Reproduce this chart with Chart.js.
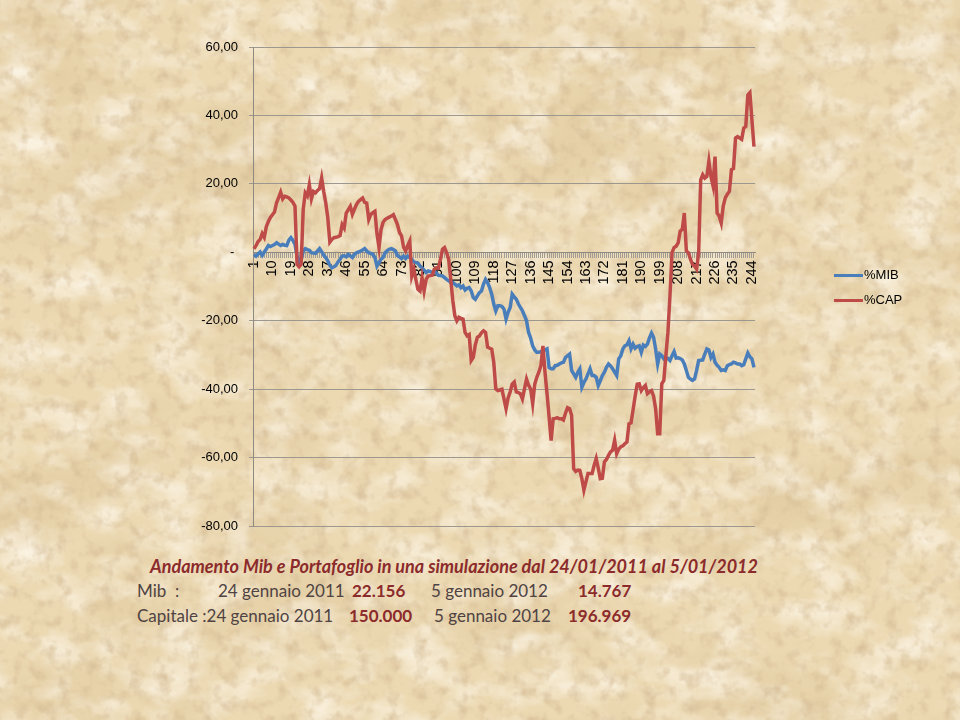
<!DOCTYPE html>
<html>
<head>
<meta charset="utf-8">
<script src="https://cdn.jsdelivr.net/npm/chart.js@4.4.1/dist/chart.umd.min.js"></script>
<style>
html, body { margin: 0; padding: 0; }
body { width: 960px; height: 720px; position: relative; overflow: hidden; background-color: #ecd9b2; }
#wrap { position: absolute; left: 0; top: 0; width: 960px; height: 545px; }
.leg { position: absolute; left: 834px; height: 20px; font: 13px 'Liberation Sans', Arial, sans-serif; color: #000; }
.leg span.l { position: absolute; left: 0; top: 9px; width: 29px; height: 3px; }
.leg span.t { position: absolute; left: 30px; top: 2px; white-space: nowrap; }
.txt { position: absolute; white-space: nowrap; font-family: Lato, 'Open Sans', sans-serif; font-size: 17px; line-height: 22px; color: #4f4343; }
.b { font-weight: bold; color: #8b2b2b; }
#titolo { left: 150px; top: 555px; font-size: 18px; font-weight: bold; font-style: italic; color: #8b2b2b; }
</style>
</head>
<body>
<div id="wrap"><canvas id="grafico" width="960" height="545"></canvas></div>

<div class="leg" style="top:265px"><span class="l" style="background:#4a7ebb"></span><span class="t">%MIB</span></div>
<div class="leg" style="top:290px"><span class="l" style="background:#be4b48"></span><span class="t">%CAP</span></div>

<div class="txt" id="titolo">Andamento Mib e Portafoglio in una simulazione dal 24/01/2011 al 5/01/2012</div>
<div class="txt" style="left:137px;top:580px">Mib &nbsp;:</div>
<div class="txt" style="left:218px;top:580px">24 gennaio 2011</div>
<div class="txt b" style="left:352px;top:580px">22.156</div>
<div class="txt" style="left:431px;top:580px">5 gennaio 2012</div>
<div class="txt b" style="left:578px;top:580px">14.767</div>
<div class="txt" style="left:137px;top:605px">Capitale :24 gennaio 2011</div>
<div class="txt b" style="left:349px;top:605px">150.000</div>
<div class="txt" style="left:434px;top:605px">5 gennaio 2012</div>
<div class="txt b" style="left:568px;top:605px">196.969</div>

<script>
// variazione % del Mib, una seduta per valore
const mib = [
  -0.6, -1.1, -0.5, 0.1, -0.9, 0.1, 1.0, 2.0, 1.7, 2.0,
  2.3, 2.8, 2.4, 2.0, 2.3, 2.1, 2.0, 3.6, 4.3, 3.5,
  2.3, -1.1, -3.0, -2.0, 0.4, 1.1, 0.8, 0.6, -0.1, -0.2,
  -0.3, 0.4, 1.1, 0.2, -0.8, -1.5, -2.5, -3.8, -4.5, -4.2,
  -3.8, -2.8, -2.0, -1.1, -1.0, -1.3, -0.6, -1.0, -1.5, -0.6,
  -0.1, 0.1, 0.4, 0.7, 1.1, 0.4, -0.1, -0.3, -0.6, -1.5,
  -4.0, -3.0, -2.0, -1.5, -0.1, 0.5, 0.9, 1.1, 0.8, 0.4,
  -0.9, -1.3, -1.8, -1.1, -1.8, -1.1, -1.5, -2.0, -2.8, -3.0,
  -3.2, -4.0, -4.5, -5.2, -5.9, -5.4, -5.6, -5.9, -5.4, -6.0,
  -6.7, -6.8, -6.9, -7.4, -7.9, -8.3, -8.8, -8.8, -9.3, -9.8,
  -9.5, -10.3, -9.8, -11.0, -10.5, -10.3, -11.3, -13.2, -13.7, -12.7,
  -11.8, -11.3, -9.3, -7.9, -8.8, -10.3, -12.2, -15.1, -17.1, -15.6,
  -15.6, -15.8, -16.6, -19.5, -17.5, -16.1, -12.2, -13.0, -13.7, -15.0,
  -16.1, -17.1, -18.5, -20.0, -23.4, -25.0, -27.3, -28.5, -29.2, -29.2,
  -29.0, -28.7, -28.5, -28.2, -33.6, -34.0, -34.0, -33.1, -33.0, -32.6,
  -32.3, -32.1, -30.7, -30.2, -29.7, -34.5, -35.5, -36.5, -35.0, -34.0,
  -39.4, -38.0, -37.0, -35.5, -34.0, -36.0, -36.0, -36.5, -38.9, -37.5,
  -36.0, -35.0, -33.6, -32.6, -33.2, -34.0, -35.0, -36.0, -31.1, -30.2,
  -28.2, -27.3, -27.0, -25.8, -28.2, -26.8, -28.0, -27.5, -27.3, -29.2,
  -27.1, -27.5, -26.8, -25.0, -23.6, -24.8, -28.2, -32.6, -29.7, -30.2,
  -31.1, -30.7, -31.0, -31.6, -30.2, -29.0, -30.9, -30.8, -31.0, -31.4,
  -32.6, -34.5, -36.5, -37.0, -37.4, -37.0, -34.5, -31.6, -31.5, -31.4,
  -29.7, -28.2, -28.5, -30.7, -29.7, -32.1, -33.0, -33.6, -34.5, -34.3,
  -34.5, -33.1, -32.8, -32.6, -32.1, -32.3, -32.6, -32.6, -33.1, -32.8,
  -31.1, -29.4, -30.5, -31.1, -33.6
];

// variazione % del capitale
const cap = [
  1.0, 2.0, 3.2, 3.8, 5.5, 4.4, 7.5, 9.0, 10.2, 11.0,
  11.8, 14.5, 16.0, 17.6, 15.6, 16.4, 16.2, 15.9, 15.3, 14.6,
  13.5, -3.5, -4.2, -3.5, 12.5, 17.4, 16.5, 19.8, 15.6, 17.8,
  17.4, 18.1, 18.6, 21.7, 17.8, 14.5, 10.1, 3.0, 3.8, 4.3,
  4.4, 4.6, 4.9, 8.1, 7.1, 11.5, 12.5, 13.5, 11.1, 12.6,
  14.0, 14.9, 15.4, 15.9, 14.6, 14.4, 9.6, 11.1, 11.6, 12.0,
  5.5, 1.4, 6.7, 8.8, 9.6, 10.0, 10.3, 10.6, 11.0, 9.6,
  8.1, 5.8, 4.8, 1.5, 0.4, 2.0, 3.3, -6.9, -4.9, -8.0,
  -10.8, -11.3, -7.4, -11.3, -7.9, -6.9, -6.8, -6.7, -4.9, -4.5,
  -4.6, -2.0, 0.9, 1.4, -0.1, -2.0, -7.9, -14.0, -18.5, -20.0,
  -19.0, -19.3, -19.5, -23.4, -24.4, -24.0, -31.6, -30.7, -27.0, -24.8,
  -24.4, -23.5, -22.9, -23.4, -27.7, -28.0, -28.3, -32.1, -39.9, -40.4,
  -40.2, -40.0, -42.8, -45.7, -42.5, -40.8, -38.5, -37.9, -40.8, -41.0,
  -41.3, -42.8, -39.9, -37.0, -38.8, -39.9, -44.2, -38.5, -36.5, -35.0,
  -33.1, -27.3, -35.0, -41.3, -48.0, -55.0, -48.6, -48.5, -48.3, -48.6,
  -48.6, -49.0, -47.0, -45.4, -45.7, -47.6, -63.2, -64.0, -63.6, -63.7,
  -66.1, -69.5, -67.0, -64.6, -64.6, -64.6, -62.2, -60.2, -63.0, -66.1,
  -66.0, -61.2, -60.5, -59.3, -58.3, -57.8, -54.9, -58.8, -57.5, -56.8,
  -56.5, -55.9, -55.4, -50.1, -49.8, -46.0, -42.0, -38.5, -38.4, -40.4,
  -39.5, -38.9, -41.3, -40.8, -40.4, -42.0, -45.7, -53.0, -53.0, -38.4,
  -37.4, -30.2, -23.4, -12.7, -0.1, 1.4, 1.8, 2.8, 6.2, 6.7,
  11.5, 0.4, -0.1, -2.0, -3.5, -4.0, -4.9, -0.1, 21.2, 22.7,
  21.7, 22.2, 26.6, 22.2, 19.5, 28.0, 11.5, 10.6, 8.6, 13.5,
  15.9, 17.0, 17.8, 24.2, 24.5, 33.4, 33.8, 33.4, 33.0, 36.3,
  36.8, 46.0, 46.7, 38.7, 30.9
];

// numero della seduta sull'asse x, etichetta ogni 9
const giorni = mib.map((v, i) => String(i + 1));
const passoEtichette = 9;
const yMin = -80, yMax = 60, yPasso = 20;

// sfondo tipo pergamena (macchie leggere)
const svg = "<svg xmlns='http://www.w3.org/2000/svg' width='960' height='720'>" +
  "<filter id='a' x='0' y='0' width='100%' height='100%'><feTurbulence type='fractalNoise' baseFrequency='0.006 0.009' numOctaves='5' seed='11'/>" +
  "<feColorMatrix values='0 0 0 0 0.72  0 0 0 0 0.56  0 0 0 0 0.32  1.5 0 0 0 -0.68'/></filter>" +
  "<filter id='b' x='0' y='0' width='100%' height='100%'><feTurbulence type='fractalNoise' baseFrequency='0.02 0.03' numOctaves='4' seed='4'/>" +
  "<feColorMatrix values='0 0 0 0 1  0 0 0 0 0.96  0 0 0 0 0.88  0 1.6 0 0 -0.68'/></filter>" +
  "<filter id='c' x='0' y='0' width='100%' height='100%'><feTurbulence type='fractalNoise' baseFrequency='0.07' numOctaves='3' seed='21'/>" +
  "<feColorMatrix values='0 0 0 0 0.66  0 0 0 0 0.5  0 0 0 0 0.3  0 0 1.8 0 -0.85'/></filter>" +
  "<rect width='960' height='720' filter='url(#a)'/>" +
  "<rect width='960' height='720' filter='url(#b)'/>" +
  "<rect width='960' height='720' filter='url(#c)'/></svg>";
document.body.style.backgroundImage = 'url("data:image/svg+xml,' + encodeURIComponent(svg) + '")';

const fontY = { family: "'Liberation Sans', Arial, sans-serif", size: 13 };
const fontX = { family: "'Liberation Sans', Arial, sans-serif", size: 14.5 };

new Chart(document.getElementById('grafico'), {
  type: 'line',
  data: {
    labels: giorni,
    datasets: [
      { label: '%MIB', data: mib, borderColor: '#4a7ebb', borderWidth: 3.5, pointRadius: 0, tension: 0, order: 1 },
      { label: '%CAP', data: cap, borderColor: '#be4b48', borderWidth: 3.5, pointRadius: 0, tension: 0, order: 0 }
    ]
  },
  options: {
    responsive: false,
    animation: false,
    devicePixelRatio: 1,
    layout: { padding: { top: 47, right: 205, bottom: 17, left: 0 } },
    plugins: { legend: { display: false }, tooltip: { enabled: false } },
    scales: {
      x: {
        position: { y: 0 },
        offset: true,
        grid: { drawOnChartArea: false, drawTicks: true, tickLength: 5, color: '#a19d94' },
        border: { color: '#8e8a82' },
        ticks: {
          autoSkip: false, maxRotation: 90, minRotation: 90, padding: 3,
          color: '#000', font: fontX,
          callback: (v, i) => i % passoEtichette === 0 ? giorni[i] : ''
        }
      },
      y: {
        min: yMin, max: yMax,
        afterFit: s => { s.width = 253; },
        border: { color: '#8e8a82' },
        grid: {
          tickLength: 4,
          color: c => (c.tick && c.tick.value === 0) ? 'rgba(0,0,0,0)' : '#9c988f'
        },
        ticks: {
          stepSize: yPasso, padding: 11, color: '#000', font: fontY,
          callback: v => v === 0 ? '- ' : v.toFixed(2).replace('.', ',')
        }
      }
    }
  }
});
</script>
</body>
</html>
